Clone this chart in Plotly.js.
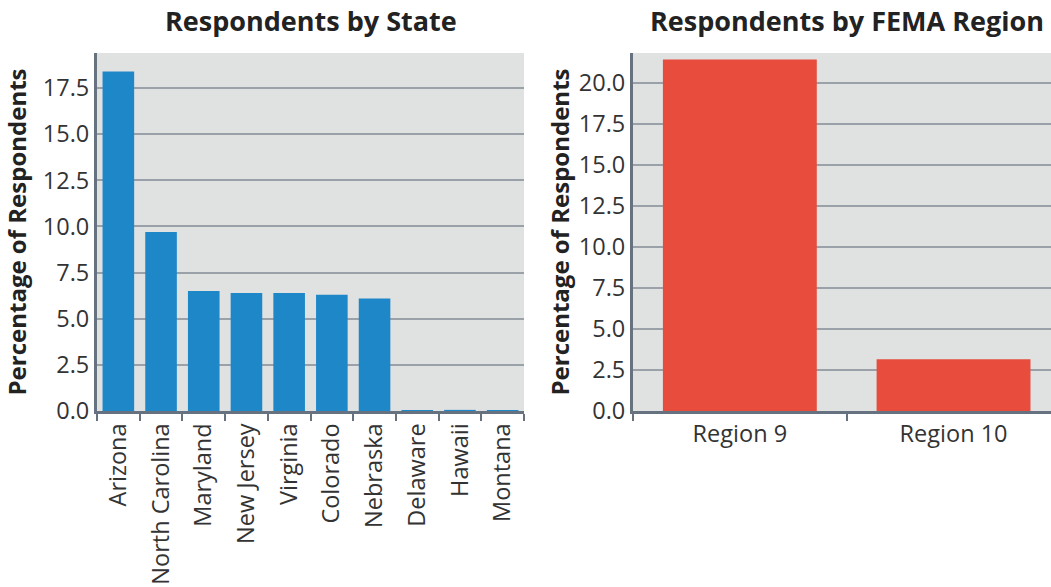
<!DOCTYPE html>
<html>
<head>
<meta charset="utf-8">
<script src="https://cdn.plot.ly/plotly-3.0.1.min.js"></script>
<style>
  html, body { margin: 0; padding: 0; background: #ffffff; }
  #chart { width: 1051px; height: 587px; }
</style>
</head>
<body>
<div id="chart"></div>
<script>
// Share of survey respondents by state
const states = ["Arizona", "North Carolina", "Maryland", "New Jersey", "Virginia",
                "Colorado", "Nebraska", "Delaware", "Hawaii", "Montana"];
const statePct = [18.4, 9.7, 6.5, 6.4, 6.4, 6.3, 6.1, 0.06, 0.06, 0.06];

// Share of survey respondents by FEMA region
const regions = ["Region 9", "Region 10"];
const regionPct = [21.4, 3.15];

const yTicks = [0, 2.5, 5, 7.5, 10, 12.5, 15, 17.5, 20];

const FONT = "Open Sans, Noto Sans, DejaVu Sans, sans-serif";
const AXIS_COLOR = "#66727f";
const GRID_COLOR = "#9ba1a8";
const PLOT_BG = "#e0e1e1";
const TICK_SIZE = 23.5;

const traces = [
  {
    type: "bar", x: states, y: statePct, width: 0.74,
    marker: { color: "#1e87c8" },
    xaxis: "x", yaxis: "y", hoverinfo: "x+y"
  },
  {
    type: "bar", x: regions, y: regionPct, width: 0.72,
    marker: { color: "#e74c3c" },
    xaxis: "x2", yaxis: "y2", hoverinfo: "x+y"
  }
];

function xAxis(domain, anchor, angle, range) {
  return {
    domain: domain, anchor: anchor, range: range,
    type: "category",
    showline: true, linecolor: AXIS_COLOR, linewidth: 3,
    ticks: "outside", tickson: "boundaries",
    ticklen: 7, tickwidth: 2, tickcolor: AXIS_COLOR,
    tickangle: angle,
    tickfont: { family: FONT, size: TICK_SIZE, color: "#333333" },
    showgrid: false, zeroline: false, fixedrange: true
  };
}

function yAxis(anchor, range, standoff) {
  return {
    anchor: anchor, range: range,
    tickmode: "array", tickvals: yTicks,
    ticktext: yTicks.map(v => v.toFixed(1)),
    showline: true, linecolor: AXIS_COLOR, linewidth: 3,
    ticks: "", showgrid: true, gridcolor: GRID_COLOR, gridwidth: 2,
    zeroline: false,
    tickfont: { family: FONT, size: TICK_SIZE, color: "#333333" },
    title: { text: "<b>Percentage of Respondents</b>",
             font: { family: FONT, size: 24, color: "#222222" }, standoff: standoff },
    fixedrange: true
  };
}

const dom1 = [0, 427 / 954];
const dom2 = [536 / 954, 1];
// the region panel runs slightly past the right edge of the page
const range2 = [-0.5, 1.456];
const title2X = dom2[0] + (dom2[1] - dom2[0]) * (1.0 / (range2[1] - range2[0]));

const layout = {
  width: 1051, height: 587,
  margin: { l: 97, r: 0, t: 53, b: 176 },
  paper_bgcolor: "#ffffff",
  plot_bgcolor: PLOT_BG,
  showlegend: false,
  font: { family: FONT, color: "#333333" },
  xaxis: xAxis(dom1, "y", -90, [-0.5, 9.5]),
  yaxis: yAxis("x", [0, 19.4], 10),
  xaxis2: xAxis(dom2, "y2", 0, range2),
  yaxis2: yAxis("x2", [0, 21.8], 3),
  annotations: [
    {
      text: "<b>Respondents by State</b>",
      xref: "paper", yref: "paper",
      x: (dom1[0] + dom1[1]) / 2, y: 1 + 33 / 358,
      xanchor: "center", yanchor: "middle", showarrow: false,
      font: { family: FONT, size: 27, color: "#222222" }
    },
    {
      text: "<b>Respondents by FEMA Region</b>",
      xref: "paper", yref: "paper",
      x: title2X, y: 1 + 33 / 358,
      xanchor: "center", yanchor: "middle", showarrow: false,
      font: { family: FONT, size: 27, color: "#222222" }
    }
  ]
};

Plotly.newPlot("chart", traces, layout, { displayModeBar: false, staticPlot: true });
</script>
</body>
</html>
